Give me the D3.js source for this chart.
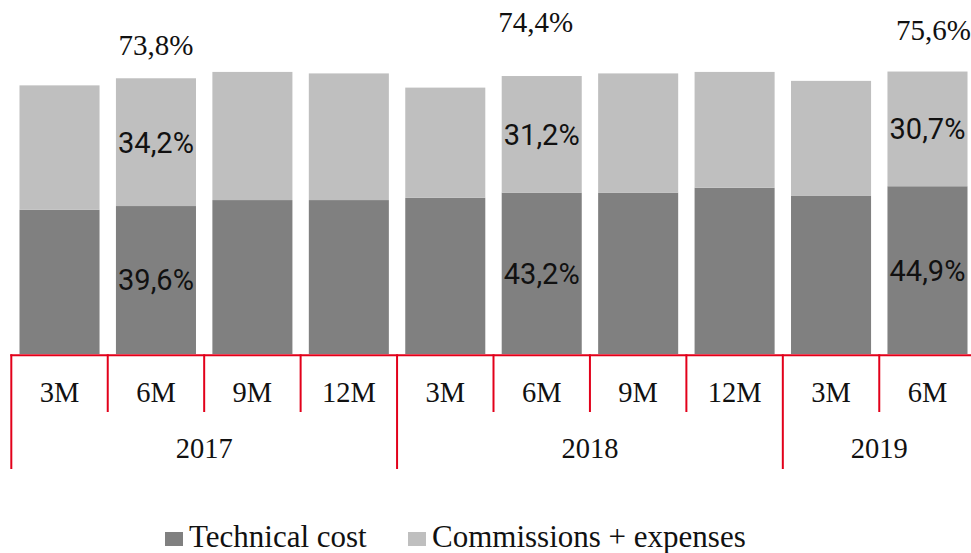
<!DOCTYPE html>
<html>
<head>
<meta charset="utf-8">
<script src="https://cdn.jsdelivr.net/npm/d3@7"></script>
<style>
  body { margin: 0; background: #fff; }
  svg { display: block; }
</style>
</head>
<body>
<div id="chart"></div>
<script>
// data
var periods = ["3M", "6M", "9M", "12M", "3M", "6M", "9M", "12M", "3M", "6M"];
var years = ["2017", "2017", "2017", "2017", "2018", "2018", "2018", "2018", "2019", "2019"];
var technicalCost = [38.6, 39.6, 41.2, 41.2, 41.8, 43.2, 43.2, 44.5, 42.3, 44.9];
var commissions = [33.3, 34.2, 34.3, 33.9, 29.5, 31.2, 31.9, 31.0, 30.8, 30.7];
// which bars carry value labels
var labelled = [1, 5, 9];
var seriesNames = ["Technical cost", "Commissions + expenses"];
var seriesColors = ["#808080", "#bfbfbf"];

var width = 971, height = 553;
var red = "#e2001a";
var serif = "'Liberation Serif', serif";
var sans = "Roboto, 'DejaVu Sans', sans-serif";

var svg = d3.select("#chart").append("svg")
    .attr("width", width)
    .attr("height", height);

var ids = d3.range(periods.length);

// band boundaries (ticks) and bars
var xOuter = d3.scaleBand().domain(ids).range([11.3, 975.7]);
var xBar = d3.scaleBand().domain(ids).range([11.3, 975.7])
    .paddingInner(0.17).paddingOuter(0.085);

var y = d3.scaleLinear().domain([0, 80]).range([354, 55.1]);

var fmt = function(v) { return d3.format(".1f")(v).replace(".", ",") + "%"; };

// stacked bars
var rows = ids.map(function(i) {
  return { i: i, tech: technicalCost[i], comm: commissions[i] };
});
var stack = d3.stack().keys(["tech", "comm"]);
var layers = stack(rows);

svg.append("g").selectAll("g")
  .data(layers)
  .enter().append("g")
    .attr("fill", function(d, k) { return seriesColors[k]; })
  .selectAll("rect")
  .data(function(d) { return d; })
  .enter().append("rect")
    .attr("x", function(d) { return xBar(d.data.i); })
    .attr("width", xBar.bandwidth())
    .attr("y", function(d) { return y(d[1]); })
    .attr("height", function(d) { return y(d[0]) - y(d[1]); });

// labels inside segments
var inner = svg.append("g")
    .attr("font-family", sans)
    .attr("font-size", 29)
    .attr("fill", "#111")
    .attr("text-anchor", "middle");

layers.forEach(function(layer) {
  labelled.forEach(function(i) {
    var d = layer[i];
    inner.append("text")
      .attr("x", xBar(i) + xBar.bandwidth() / 2)
      .attr("y", (y(d[0]) + y(d[1])) / 2)
      .attr("dy", "0.36em")
      .text(fmt(d[1] - d[0]));
  });
});

// totals above bars (they sit unevenly in the original)
var totalLift = [33, 54, 42];
var totalShift = [0, -6, 6];
svg.append("g")
    .attr("font-family", serif)
    .attr("font-size", 29)
    .attr("fill", "#111")
    .attr("text-anchor", "middle")
  .selectAll("text")
  .data(labelled)
  .enter().append("text")
    .attr("x", function(i, k) { return xBar(i) + xBar.bandwidth() / 2 + totalShift[k]; })
    .attr("y", function(i, k) { return y(technicalCost[i] + commissions[i]) - totalLift[k]; })
    .attr("dy", "0.35em")
    .text(function(i) { return fmt(+(technicalCost[i] + commissions[i]).toFixed(1)); });

// axis: red baseline, period ticks and year brackets
var axis = svg.append("g")
    .attr("stroke", red)
    .attr("stroke-width", 2);

var baseY = 355.3;
axis.append("line")
    .attr("x1", xOuter(0) - 1)
    .attr("x2", width)
    .attr("y1", baseY)
    .attr("y2", baseY);

var groupStart = ids.filter(function(i) { return i === 0 || years[i] !== years[i - 1]; });

axis.selectAll(".tick")
  .data(ids)
  .enter().append("line")
    .attr("x1", function(i) { return xOuter(i); })
    .attr("x2", function(i) { return xOuter(i); })
    .attr("y1", baseY - 1)
    .attr("y2", function(i) { return groupStart.indexOf(i) >= 0 ? 469 : 412; });

svg.append("g")
    .attr("font-family", serif)
    .attr("font-size", 28.5)
    .attr("fill", "#111")
    .attr("text-anchor", "middle")
  .selectAll("text")
  .data(ids)
  .enter().append("text")
    .attr("x", function(i) { return xOuter(i) + xOuter.bandwidth() / 2; })
    .attr("y", 402)
    .text(function(i) { return periods[i]; });

var yearGroups = d3.groups(ids, function(i) { return years[i]; });
svg.append("g")
    .attr("font-family", serif)
    .attr("font-size", 28.5)
    .attr("fill", "#111")
    .attr("text-anchor", "middle")
  .selectAll("text")
  .data(yearGroups)
  .enter().append("text")
    .attr("x", function(g) {
      var first = g[1][0], last = g[1][g[1].length - 1];
      return (xOuter(first) + xOuter(last) + xOuter.bandwidth()) / 2;
    })
    .attr("y", 458)
    .text(function(g) { return g[0]; });

// legend
var legend = svg.append("g")
    .attr("font-family", serif)
    .attr("font-size", 31)
    .attr("fill", "#111");

var legendX = [165, 408];
seriesNames.forEach(function(name, k) {
  legend.append("rect")
    .attr("x", legendX[k])
    .attr("y", 532)
    .attr("width", 18)
    .attr("height", 14)
    .attr("fill", seriesColors[k]);
  legend.append("text")
    .attr("x", legendX[k] + 24)
    .attr("y", 547)
    .text(name);
});
</script>
</body>
</html>
